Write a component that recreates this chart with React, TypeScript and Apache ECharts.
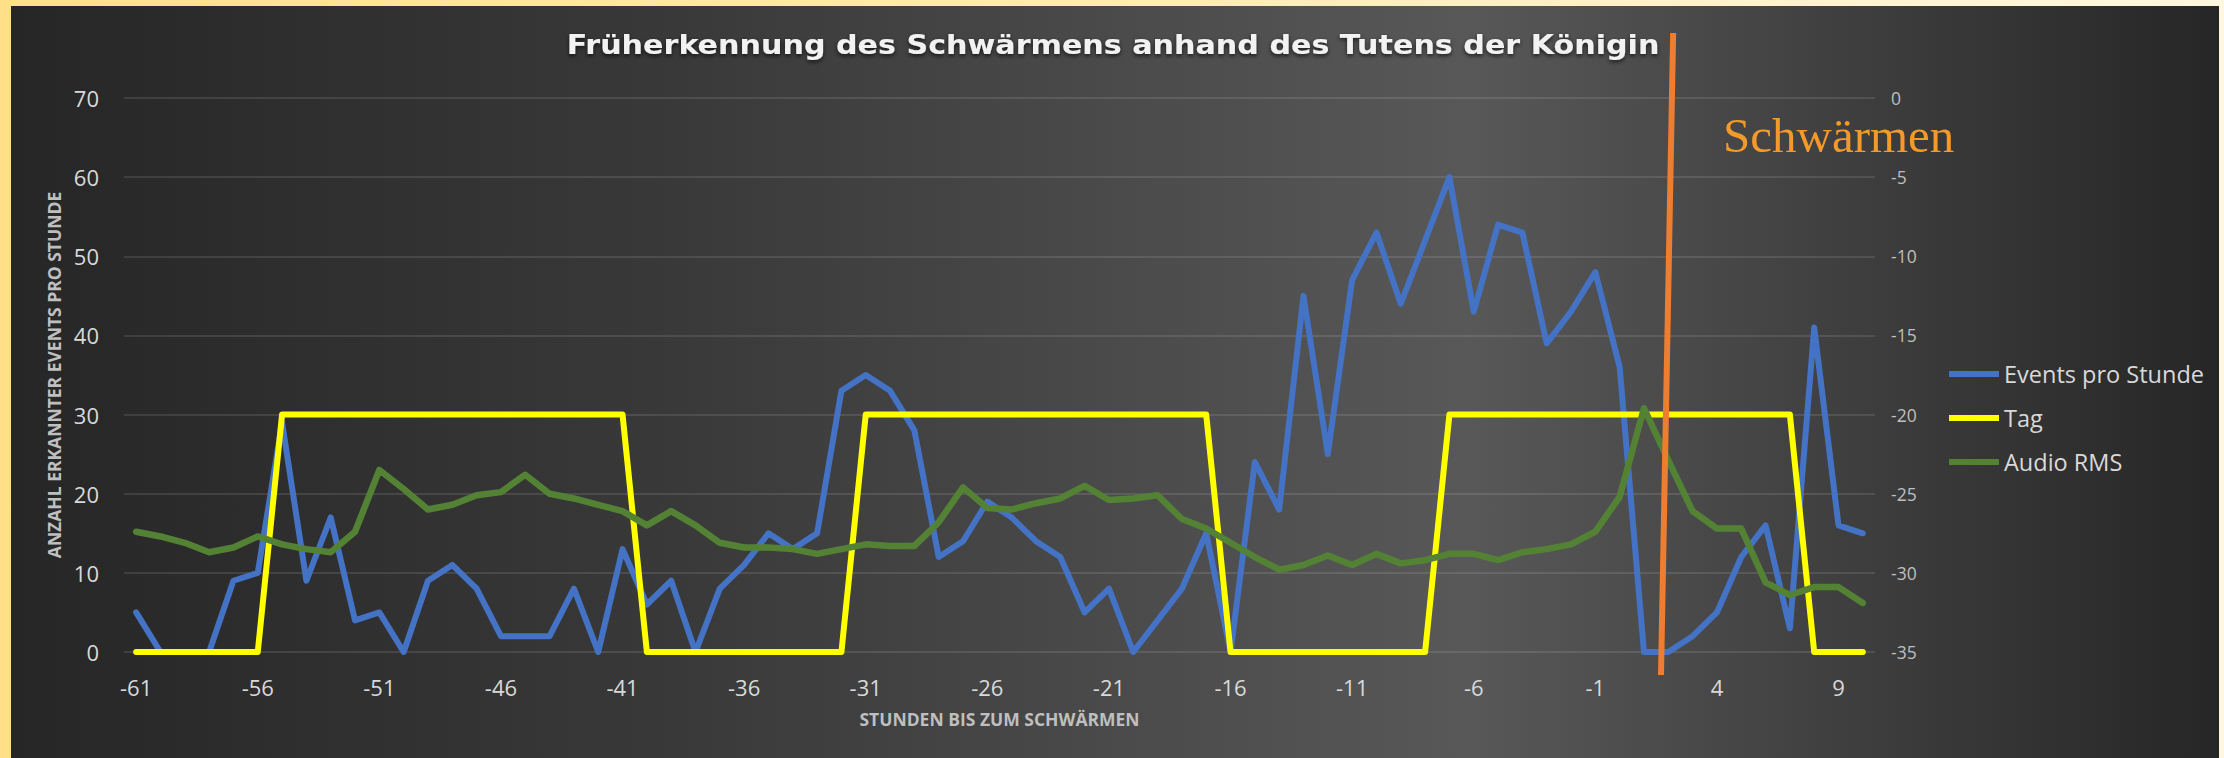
import React, { useEffect, useRef } from 'react';
import * as echarts from 'echarts';

const hours = [
  '-61','-60','-59','-58','-57','-56','-55','-54','-53','-52','-51','-50','-49','-48','-47',
  '-46','-45','-44','-43','-42','-41','-40','-39','-38','-37','-36','-35','-34','-33',
  '-32','-31','-30','-29','-28','-27','-26','-25','-24','-23','-22','-21','-20','-19','-18',
  '-17','-16','-15','-14','-13','-12','-11','-10','-9','-8','-7','-6','-5','-4',
  '-3','-2','-1','0','1','2','3','4','5','6','7','8','9','10',
];

const events = [
  5, 0, 0, 0, 9, 10, 29, 9, 17, 4, 5, 0, 9, 11, 8,
  2, 2, 2, 8, 0, 13, 6, 9, 0, 8, 11, 15, 13, 15,
  33, 35, 33, 28, 12, 14, 19, 17, 14, 12, 5, 8, 0, 4, 8,
  15, 0, 24, 18, 45, 25, 47, 53, 44, 52, 60, 43, 54, 53,
  39, 43, 48, 36, 0, 0, 2, 5, 12, 16, 3, 41, 16, 15,
];

const tag = [
  0, 0, 0, 0, 0, 0,
  30, 30, 30, 30, 30, 30, 30, 30, 30, 30, 30, 30, 30, 30, 30,
  0, 0, 0, 0, 0, 0, 0, 0, 0,
  30, 30, 30, 30, 30, 30, 30, 30, 30, 30, 30, 30, 30, 30, 30,
  0, 0, 0, 0, 0, 0, 0, 0, 0,
  30, 30, 30, 30, 30, 30, 30, 30, 30, 30, 30, 30, 30, 30, 30,
  0, 0, 0,
];

const audioRms = [
  -27.4, -27.7, -28.1, -28.7, -28.4, -27.7, -28.2, -28.5, -28.7, -27.4, -23.5, -24.7, -26.0, -25.7, -25.1,
  -24.9, -23.8, -25.0, -25.3, -25.7, -26.1, -27.0, -26.1, -27.0, -28.1, -28.4, -28.4, -28.5, -28.8,
  -28.5, -28.2, -28.3, -28.3, -26.8, -24.6, -25.9, -26.0, -25.6, -25.3, -24.5, -25.4, -25.3, -25.1, -26.6,
  -27.2, -28.1, -29.0, -29.8, -29.5, -28.9, -29.5, -28.8, -29.4, -29.2, -28.8, -28.8, -29.2, -28.7,
  -28.5, -28.2, -27.4, -25.2, -19.6, -22.9, -26.1, -27.2, -27.2, -30.6, -31.4, -30.9, -30.9, -31.9,
];

const seriesNames = ['Events pro Stunde', 'Tag', 'Audio RMS'];
const seriesColors = ['#4472C4', '#FFFF00', '#548235'];
const leftAxis = { min: 0, max: 70, interval: 10 };
const rightAxis = { min: -35, max: 0, interval: 5 };
// swarm marker: category index range (bottom, top) of the tilted orange line
const swarmIdx = { bottom: 62.7, top: 63.2 };

const titleText = 'Früherkennung des Schwärmens anhand des Tutens der Königin';
const swarmText = 'Schwärmen';

const labelFont = "'Open Sans', sans-serif";

export default function App() {
  const ref = useRef<HTMLDivElement>(null);

  useEffect(() => {
    document.body.style.margin = '0';
    const chart = echarts.init(ref.current as HTMLDivElement, undefined, { renderer: 'svg' });
    const option: any = {
      animation: false,
      backgroundColor: new echarts.graphic.LinearGradient(0, 0, 1, 0, [
        { offset: 0, color: '#262626' },
        { offset: 0.3, color: '#393939' },
        { offset: 0.66, color: '#585858' },
        { offset: 0.85, color: '#3c3c3c' },
        { offset: 1, color: '#262626' },
      ]),
      grid: { left: 113, right: 344, top: 92, bottom: 106, containLabel: false },
      legend: {
        orient: 'vertical',
        left: 1933,
        top: 351,
        icon: 'rect',
        itemWidth: 50,
        itemHeight: 6,
        itemGap: 20,
        data: seriesNames,
        textStyle: { color: '#d9d9d9', fontSize: 23.5, fontFamily: labelFont },
      },
      xAxis: {
        type: 'category',
        data: hours,
        boundaryGap: true,
        axisLine: { show: false },
        axisTick: { show: false },
        axisLabel: { interval: 4, color: '#d9d9d9', fontSize: 22, margin: 24, fontFamily: labelFont },
        name: 'STUNDEN BIS ZUM SCHWÄRMEN',
        nameLocation: 'middle',
        nameGap: 58,
        nameTextStyle: { color: '#bfbfbf', fontSize: 17.5, fontWeight: 'bold', fontFamily: labelFont },
      },
      yAxis: [
        {
          type: 'value',
          min: leftAxis.min,
          max: leftAxis.max,
          interval: leftAxis.interval,
          axisLine: { show: false },
          axisTick: { show: false },
          axisLabel: { color: '#d9d9d9', fontSize: 22, margin: 25, fontFamily: labelFont },
          splitLine: { lineStyle: { color: 'rgba(255,255,255,0.14)', width: 1.5 } },
          name: 'ANZAHL ERKANNTER EVENTS PRO STUNDE',
          nameLocation: 'middle',
          nameGap: 26,
          nameTextStyle: { color: '#bfbfbf', fontSize: 17.5, fontWeight: 'bold', fontFamily: labelFont },
        },
        {
          type: 'value',
          position: 'right',
          min: rightAxis.min,
          max: rightAxis.max,
          interval: rightAxis.interval,
          axisLine: { show: false },
          axisTick: { show: false },
          splitLine: { show: false },
          axisLabel: { color: '#bfbfbf', fontSize: 17.5, margin: 16, fontFamily: labelFont },
        },
      ],
      series: [
        {
          name: seriesNames[0],
          type: 'line',
          data: events,
          yAxisIndex: 0,
          symbol: 'none',
          lineStyle: { color: seriesColors[0], width: 6, cap: 'round', join: 'round' },
          itemStyle: { color: seriesColors[0] },
          z: 2,
        },
        {
          name: seriesNames[1],
          type: 'line',
          data: tag,
          yAxisIndex: 0,
          symbol: 'none',
          lineStyle: { color: seriesColors[1], width: 6, cap: 'round', join: 'round' },
          itemStyle: { color: seriesColors[1] },
          z: 3,
        },
        {
          name: seriesNames[2],
          type: 'line',
          data: audioRms,
          yAxisIndex: 1,
          symbol: 'none',
          lineStyle: { color: seriesColors[2], width: 6.5, cap: 'round', join: 'round' },
          itemStyle: { color: seriesColors[2] },
          z: 4,
        },
      ],
    };
    chart.setOption(option);

    const p62 = chart.convertToPixel({ xAxisIndex: 0 }, 62) as number;
    const p63 = chart.convertToPixel({ xAxisIndex: 0 }, 63) as number;
    const step = p63 - p62;
    const xb = p62 + (swarmIdx.bottom - 62) * step;
    const xt = p62 + (swarmIdx.top - 62) * step;
    const yb = (chart.convertToPixel({ yAxisIndex: 0 }, leftAxis.min) as number) + 23;
    const yt = (chart.convertToPixel({ yAxisIndex: 0 }, leftAxis.max) as number) - 65;

    chart.setOption({
      graphic: [
        {
          type: 'text',
          x: 1102,
          y: 39,
          scaleX: 1.16,
          z: 10,
          style: {
            text: titleText,
            fill: '#f2f2f2',
            fontSize: 26,
            fontWeight: 'bold',
            fontFamily: "'DejaVu Sans', sans-serif",
            align: 'center',
            verticalAlign: 'middle',
            textShadowColor: 'rgba(0,0,0,0.7)',
            textShadowBlur: 4,
            textShadowOffsetY: 2,
          },
        },
        {
          type: 'line',
          z: 10,
          shape: { x1: xb, y1: yb, x2: xt, y2: yt },
          style: { stroke: '#ED7D31', lineWidth: 6 },
        },
        {
          type: 'text',
          x: 1712,
          y: 129,
          z: 10,
          style: {
            text: swarmText,
            fill: '#F39A2A',
            fontSize: 49,
            fontFamily: "'Liberation Serif', 'DejaVu Serif', serif",
            align: 'left',
            verticalAlign: 'middle',
          },
        },
      ],
    });

    return () => chart.dispose();
  }, []);

  return (
    <div
      style={{
        width: 2224,
        height: 758,
        position: 'relative',
        background: 'linear-gradient(to right, #FFE089, #FFF7DF)',
        overflow: 'hidden',
      }}
    >
      <div ref={ref} style={{ position: 'absolute', left: 11, top: 6, width: 2208, height: 752 }} />
    </div>
  );
}
